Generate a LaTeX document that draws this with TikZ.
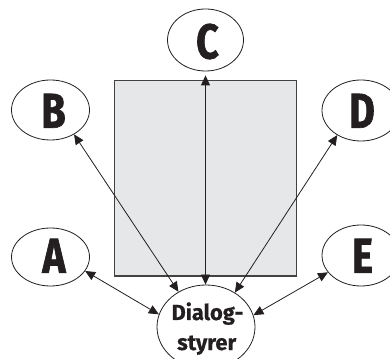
\documentclass[tikz,border=0pt]{standalone}
\usepackage{fontspec}
\setmainfont{Fira Sans}[BoldFeatures={FakeBold=0.6}]
\newfontfamily\condfont{Fira Sans}[FakeStretch=0.8, BoldFeatures={FakeBold=1.4}]
\usetikzlibrary{shapes.geometric,arrows.meta}
\definecolor{ink}{HTML}{231F20}
\definecolor{panel}{HTML}{E6E7E8}
\begin{document}
\begin{tikzpicture}[x=1pt,y=1pt,
  bubble/.style={draw=ink, line width=0.8pt, ellipse, inner sep=0pt},
  letter/.style={inner sep=0pt, text=ink, font=\condfont\fontsize{49}{49}\selectfont\bfseries},
  dlgtext/.style={inner sep=0pt, anchor=base, text=ink,
    font=\fontsize{21.8}{26}\selectfont\bfseries},
  link/.style={draw=ink, line width=0.8pt, {Triangle[length=10pt,width=9pt]}-{Triangle[length=10pt,width=9pt]}}]
\useasboundingbox (0,0) rectangle (390,358);
\node[draw=ink!85, line width=1.1pt, fill=panel, minimum width=182pt, minimum height=195.3pt, inner sep=0pt] (panelbox) at (205.3,179.6) {};
\node[bubble, minimum width=76pt, minimum height=62pt] (C) at (205.5,318) {};
\node[bubble, minimum width=78pt, minimum height=60pt] (B) at (50.5,248) {};
\node[bubble, minimum width=78pt, minimum height=61pt] (D) at (361,247.5) {};
\node[bubble, minimum width=78pt, minimum height=58pt] (A) at (50.5,101) {};
\node[bubble, minimum width=78pt, minimum height=61pt] (E) at (361,102.5) {};
\node[bubble, minimum width=98pt, minimum height=84pt] (Dlg) at (206,31) {};
\node[letter] (Ct) at (207.5,316.5) {C};
\node[letter] (Bt) at (53.5,247.2) {B};
\node[letter] (Dt) at (362,247.2) {D};
\node[letter] (At) at (54,102.2) {A};
\node[letter] (Et) at (362.5,102.2) {E};
\node[dlgtext] (dlg1) at (207.5,38) {Dialog-};
\node[dlgtext] (dlg2) at (206.7,8) {styrer};
\coordinate (Ctip) at ([yshift=-4pt]C.south);
\draw[link] (Ctip) -- (Ctip |- Dlg.north);
\draw[link] (B.-46.8) -- (Dlg.128.4);
\draw[link] (D.-134.8) -- (Dlg.50.4);
\draw[link] (A.-22.9) -- (Dlg.165);
\draw[link] (E.-153.9) -- (Dlg.14.7);
\end{tikzpicture}
\end{document}
